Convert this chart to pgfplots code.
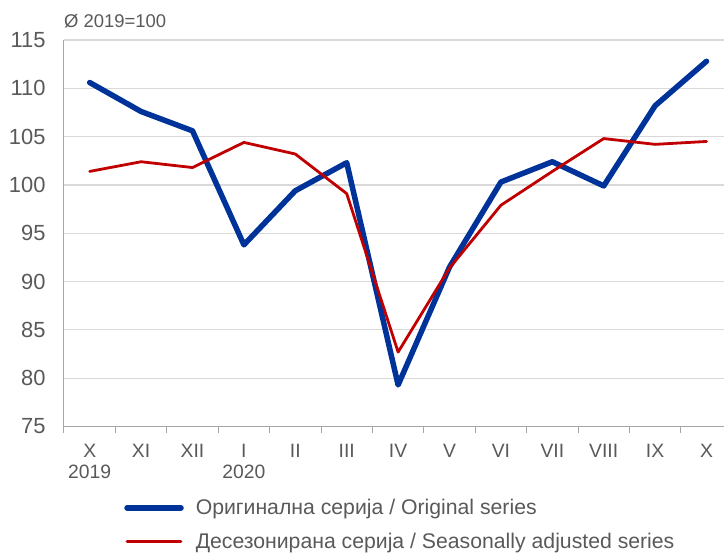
\documentclass[border=0pt]{standalone}
\usepackage{fontspec}
\setmainfont{Liberation Sans}
\usepackage{pgfplots}
\pgfplotsset{compat=1.18}
\definecolor{ser1}{HTML}{003399}
\definecolor{ser2}{HTML}{C00000}
\definecolor{txt}{HTML}{595959}
\definecolor{grd}{HTML}{D9D9D9}
\definecolor{axl}{HTML}{A6A6A6}
\begin{document}
\begin{tikzpicture}
\begin{axis}[
 scale only axis, width=660bp, height=386.5bp,
 xmin=-0.5, xmax=12.34, ymin=75, ymax=115,
 ytick={75,80,...,115},
 xtick={0,...,12},
 xticklabels={X\\2019, XI, XII, I\\2020, II, III, IV, V, VI, VII, VIII, IX, X},
 xticklabel style={align=center, font=\fontsize{19.4}{21}\selectfont, text=txt, yshift=-14bp},
 yticklabel style={font=\fontsize{22}{26}\selectfont, text=txt, xshift=-15bp},
 /pgf/number format/assume math mode=true,
 ymajorgrids, grid style={grd, line width=1.2bp},
 axis x line*=bottom, axis y line*=left,
 axis line style={axl, line width=1bp},
 major tick length=0pt,
 ytick style={draw=none},
 extra x ticks={-0.5,0.5,...,11.5},
 extra x tick labels={},
 extra x tick style={major tick length=6bp, tick align=outside, tick style={axl, line width=1bp}},
 legend style={at={(0.0910,-0.183)}, anchor=north west, draw=none, fill=none,
   font=\fontsize{21.3}{25}\selectfont, text=txt, row sep=13bp, inner sep=0pt, cells={anchor=west}},
 legend image code/.code={\draw[#1] (0bp,0bp) -- (54bp,0bp); \path (64bp,0bp);},
 legend cell align=left,
]
\addplot[ser1, line width=5.5bp, line join=round, line cap=round] coordinates {
(0,110.6) (1,107.6) (2,105.6) (3,93.8) (4,99.4) (5,102.3) (6,79.3) (7,91.5) (8,100.3) (9,102.4) (10,99.9) (11,108.2) (12,112.8)};
\addlegendentry{Оригинална серија / Original series}
\addplot[ser2, line width=2.8bp, line join=round, line cap=round] coordinates {
(0,101.4) (1,102.4) (2,101.8) (3,104.4) (4,103.2) (5,99.1) (6,82.7) (7,91.4) (8,97.9) (9,101.4) (10,104.8) (11,104.2) (12,104.5)};
\addlegendentry{Десезонирана серија / Seasonally adjusted series}
\end{axis}
\node[anchor=base west, font=\fontsize{18.5}{20}\selectfont, text=txt, inner sep=0pt] at ([yshift=12bp]current axis.north west) {Ø 2019=100};
\pgfresetboundingbox
\path[use as bounding box] (current axis.south west) ++(-64bp,-127.5bp) rectangle ++(724bp,554bp);
\end{tikzpicture}
\end{document}
